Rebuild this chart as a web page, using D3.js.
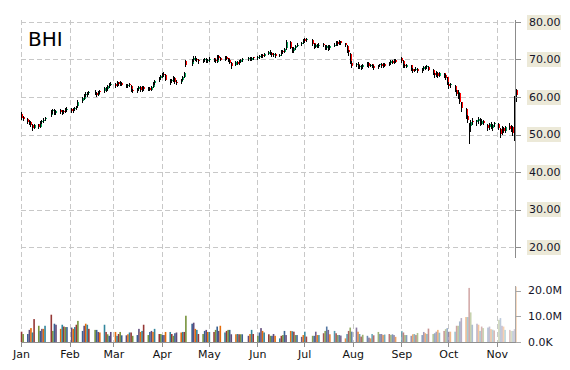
<!DOCTYPE html>
<html><head><meta charset="utf-8">
<script src="https://cdn.jsdelivr.net/npm/d3@7"></script>
<style>body{margin:0;background:#fff}svg{display:block}</style>
</head><body><svg id="c" width="570" height="370"></svg>
<script>
const ticker = "BHI";
const year = 2014;
// trading days of each month (Jan..Nov)
const monthDays = [
 [2,3,6,7,8,9,10,13,14,15,16,17,21,22,23,24,27,28,29,30,31],
 [3,4,5,6,7,10,11,12,13,14,18,19,20,21,24,25,26,27,28],
 [3,4,5,6,7,10,11,12,13,14,17,18,19,20,21,24,25,26,27,28,31],
 [1,2,3,4,7,8,9,10,11,14,15,16,17,21,22,23,24,25,28,29,30],
 [1,2,5,6,7,8,9,12,13,14,15,16,19,20,21,22,23,27,28,29,30],
 [2,3,4,5,6,9,10,11,12,13,16,17,18,19,20,23,24,25,26,27,30],
 [1,2,3,7,8,9,10,11,14,15,16,17,18,21,22,23,24,25,28,29,30,31],
 [1,4,5,6,7,8,11,12,13,14,15,18,19,20,21,22,25,26,27,28,29],
 [2,3,4,5,8,9,10,11,12,15,16,17,18,19,22,23,24,25,26,29,30],
 [1,2,3,6,7,8,9,10,13,14,15,16,17,20,21,22,23,24,27,28,29,30,31],
 [3,4,5,6,7,10,11,12,13,14]
];
const monthLabels = ["Jan","Feb","Mar","Apr","May","Jun","Jul","Aug","Sep","Oct","Nov"];
const open = [
 55.6,54.7,54.2,53.6,53.3,52.5,51.9,52.7,52.2,53.3,53.7,54.1,55.1,56.1,56.5,55.8,56.4,55.9,56.3,56.1,56.6,
 56.8,56.3,56.7,57.1,57.6,58.9,59.7,60.5,60.6,61.0,61.4,61.1,60.7,61.5,61.4,62.4,62.1,63.1,63.5,
 63.5,63.2,63.9,63.4,63.8,63.3,63.0,63.4,63.0,61.9,61.7,62.1,62.7,61.9,62.7,62.1,62.5,62.1,62.9,63.7,64.4,
 65.0,65.6,66.1,65.9,64.5,64.1,64.5,65.1,64.1,63.9,64.6,65.5,69.6,68.8,69.9,70.5,70.1,69.8,69.5,69.7,70.1,
 69.5,69.9,70.3,69.8,69.6,70.9,70.4,70.1,70.7,70.3,69.9,69.1,68.6,69.4,69.1,69.5,69.8,70.1,70.4,70.1,70.6,
 70.3,70.7,70.8,71.3,71.1,71.6,72.1,71.7,71.2,71.5,71.1,71.4,72.3,72.1,73.0,74.7,73.1,72.3,73.1,73.7,74.1,
 74.6,75.4,75.1,75.3,74.3,73.5,74.0,73.7,74.1,73.7,73.1,73.6,73.0,73.7,74.1,74.7,74.3,74.9,74.3,73.6,72.4,71.6,
 69.1,68.5,68.9,68.1,68.3,67.9,68.6,69.0,68.4,68.7,68.3,67.9,68.5,68.8,68.3,68.9,68.6,69.1,69.7,69.3,69.9,
 70.3,69.6,68.4,68.1,68.4,67.5,67.1,67.4,67.5,67.0,67.5,68.1,67.9,68.1,67.3,66.3,65.9,66.5,65.7,66.3,65.8,
 65.2,63.6,63.2,63.0,61.8,60.7,61.0,58.6,56.8,54.9,51.0,52.3,53.5,53.2,53.8,54.1,52.9,53.5,52.5,51.8,52.8,51.8,52.8,
 52.9,51.5,50.4,51.6,51.0,52.3,51.5,52.0,50.5,61.8
];
const high = [
 55.9,55.0,54.4,53.9,53.5,52.7,52.9,52.9,53.5,53.9,54.3,54.6,56.6,56.9,56.7,56.6,56.7,56.5,56.5,57.1,57.3,
 57.1,57.0,57.3,57.7,59.1,59.9,60.7,61.2,61.3,61.6,61.8,61.4,61.7,61.8,62.6,62.7,63.3,63.8,64.0,
 63.8,64.3,64.1,64.2,64.0,63.6,63.6,63.7,63.2,62.2,62.3,62.9,62.9,62.9,62.9,62.7,62.7,63.0,63.9,64.5,65.3,
 65.8,66.4,66.7,66.1,64.8,64.7,65.5,65.3,64.4,64.8,65.6,66.7,69.9,70.1,70.9,70.9,70.4,70.0,70.1,70.4,70.3,
 70.2,70.6,70.5,70.0,71.2,71.2,70.6,70.9,70.9,70.5,70.1,69.3,69.6,69.6,69.9,70.2,70.4,70.6,70.6,70.8,70.8,
 70.9,71.2,71.5,71.5,71.8,72.3,72.4,71.9,71.7,71.7,71.6,72.5,72.6,73.1,75.1,75.0,73.4,73.3,73.9,74.3,74.8,
 75.6,75.7,75.7,75.4,74.5,74.2,74.2,74.3,74.4,73.9,73.8,73.8,73.9,74.3,74.9,74.9,75.1,75.0,74.5,73.8,72.6,71.8,
 69.6,69.1,69.2,68.6,68.6,68.8,69.2,69.3,68.9,68.9,68.6,68.6,68.9,69.0,69.0,69.1,69.3,69.9,69.9,70.2,70.1,
 70.6,69.8,68.8,68.8,68.6,67.7,67.6,67.9,67.7,67.7,68.3,68.3,68.5,68.3,67.5,66.5,66.9,66.7,66.7,66.5,66.0,
 65.4,64.0,63.8,63.1,62.0,61.9,61.1,58.8,57.2,55.2,53.0,53.9,54.5,54.0,54.7,54.4,54.1,53.8,52.8,53.0,53.3,52.9,53.4,
 53.2,51.8,52.2,52.0,52.4,53.0,52.5,52.3,60.3,62.2
];
const low = [
 54.2,54.0,53.2,52.9,52.3,51.1,51.6,51.7,52.0,53.0,53.4,53.8,55.0,55.7,55.6,55.6,55.7,55.6,55.7,55.9,56.3,
 55.9,56.0,56.4,56.8,57.4,58.6,59.4,60.2,60.3,60.8,60.8,60.3,60.5,61.0,61.2,61.7,61.9,62.8,63.1,
 62.6,63.0,63.2,63.3,63.1,62.8,62.8,62.9,61.5,61.2,61.4,61.9,61.5,61.7,62.0,61.8,61.8,61.9,62.7,63.5,64.2,
 64.8,65.4,65.6,64.4,63.6,63.9,64.3,63.8,63.4,63.7,64.4,65.3,68.2,68.6,69.6,69.9,69.5,69.0,69.2,69.5,69.3,
 69.2,69.6,69.6,69.2,69.4,70.2,69.8,69.9,70.0,69.5,69.0,67.8,68.4,68.8,68.9,69.3,69.6,69.9,69.8,69.9,70.0,
 70.1,70.5,70.6,70.8,70.9,71.4,71.4,71.0,71.0,70.8,70.9,71.3,71.8,71.9,72.8,73.0,71.9,72.0,72.9,73.5,73.9,
 74.4,74.8,74.9,74.0,73.1,73.3,73.3,73.4,73.5,72.8,72.9,72.6,72.8,73.5,73.9,73.9,74.1,74.1,73.5,72.0,71.3,69.0,
 68.0,68.2,67.7,67.7,67.4,67.7,68.3,68.1,68.2,67.9,67.5,67.7,68.3,68.0,68.1,68.3,68.4,68.9,69.0,69.1,69.2,
 69.3,68.0,67.9,67.9,67.3,66.7,66.9,67.1,66.6,66.8,67.2,67.5,67.7,67.2,66.0,65.4,65.7,65.3,65.5,65.2,64.8,
 63.5,62.3,62.8,61.6,60.6,59.6,58.4,56.2,54.4,53.3,47.7,51.0,52.8,52.6,53.0,52.6,52.7,52.7,51.2,51.5,51.8,51.2,52.2,
 51.5,49.4,50.1,50.6,50.8,51.4,51.0,49.9,48.6,59.0
];
const close = [
 54.6,54.3,53.5,53.2,52.6,51.8,52.6,52.0,53.2,53.6,54.0,54.3,56.0,56.4,55.9,56.3,56.0,56.2,56.0,56.8,56.9,
 56.2,56.8,57.0,57.5,58.8,59.6,60.4,60.9,61.0,61.3,61.0,60.6,61.4,61.2,62.3,62.0,63.0,63.4,63.6,
 63.0,64.0,63.5,63.9,63.4,63.0,63.3,63.2,61.8,61.6,62.0,62.6,61.8,62.6,62.2,62.4,62.0,62.8,63.6,64.2,65.0,
 65.5,66.0,65.8,64.6,64.0,64.4,65.2,64.0,63.8,64.5,65.4,66.5,68.6,69.8,70.4,70.2,69.9,69.4,69.8,70.0,69.6,
 69.8,70.2,69.9,69.5,70.8,70.5,70.0,70.6,70.2,69.8,69.2,68.4,69.3,69.0,69.6,69.9,70.1,70.3,70.0,70.5,70.3,
 70.6,70.9,71.2,71.0,71.5,72.0,71.6,71.2,71.4,71.0,71.3,72.2,72.0,72.8,74.6,73.2,72.2,73.0,73.6,74.0,74.4,
 75.3,75.0,75.4,74.2,73.4,73.9,73.6,74.0,73.8,73.0,73.5,72.9,73.6,74.0,74.6,74.2,74.8,74.4,73.7,72.3,71.8,69.3,
 68.4,68.8,68.0,68.2,67.8,68.5,68.9,68.3,68.6,68.2,67.8,68.4,68.7,68.2,68.8,68.5,69.0,69.6,69.2,69.8,69.4,
 69.5,68.3,68.2,68.5,67.6,67.0,67.3,67.6,66.9,67.4,68.0,67.8,68.2,67.4,66.2,65.8,66.6,65.6,66.4,65.6,65.1,
 63.8,63.0,63.4,61.9,60.8,61.2,58.7,56.9,54.6,53.8,52.6,53.4,53.2,53.8,54.2,52.8,53.6,53.0,51.6,52.7,52.0,52.6,53.0,
 51.8,50.2,51.8,50.9,52.1,51.6,52.2,50.4,60.0,60.5
];
// volume in millions
const volume = [
 4.0,3.1,3.1,4.7,5.4,3.7,8.9,6.3,4.3,5.1,5.1,6.3,10.6,4.3,7.1,6.7,5.1,6.7,6.0,5.8,5.8,
 5.6,5.1,5.8,6.7,8.2,4.3,6.3,7.1,6.7,5.1,4.7,4.7,3.9,3.7,6.7,3.9,3.0,2.4,3.9,
 3.9,2.4,3.1,3.9,2.6,2.6,3.0,3.7,3.7,2.4,2.7,5.1,3.9,4.3,6.7,2.7,3.9,4.3,3.9,5.1,3.1,
 3.1,2.7,2.7,3.9,3.9,3.1,2.4,3.4,3.7,3.7,3.9,3.9,10.2,7.1,7.5,5.1,4.7,3.1,3.1,4.3,4.7,
 3.9,3.9,3.9,4.7,6.0,4.3,6.3,3.7,4.3,4.7,4.7,3.0,3.0,3.1,3.0,3.0,3.0,2.4,3.1,4.7,3.1,
 2.4,3.7,5.4,4.3,3.7,3.0,2.4,2.4,3.1,2.4,1.4,2.4,2.7,4.3,2.7,4.3,4.2,4.0,2.7,2.7,2.0,
 2.7,4.0,2.1,2.4,2.4,4.0,2.7,2.7,3.4,4.3,6.0,4.7,3.0,4.3,3.4,2.7,2.7,2.5,1.4,3.1,4.3,5.6,
 4.0,5.6,4.0,3.1,2.1,2.8,2.4,1.7,1.4,3.1,2.6,3.9,3.1,3.1,2.7,2.9,3.1,2.7,3.0,2.7,2.0,
 4.3,3.7,2.7,2.7,2.4,3.0,3.1,2.7,3.5,2.7,3.9,3.4,3.1,5.2,3.1,3.4,4.0,4.7,3.6,4.3,5.0,
 5.4,4.0,4.0,4.0,6.3,6.3,8.0,9.3,9.7,9.7,21.0,11.5,6.7,7.1,6.7,4.3,6.0,5.4,5.6,6.0,5.0,4.8,4.5,
 8.6,9.3,6.3,6.0,4.7,4.7,4.3,4.3,5.0,21.5
];
const priceTicks = [20,30,40,50,60,70,80];
const volTicks = [0,10,20];
const volTickLabels = ["0.0K","10.0M","20.0M"];
const volColors = ["#953735","#77933C","#376092","#604A7B","#E46C0A","#31859C"];

// build data table
const dates = [];
monthDays.forEach((days, m) => days.forEach(d => dates.push(new Date(year, m, d))));
const data = dates.map((d, i) => ({date: d, o: open[i], h: high[i], l: low[i], c: close[i], v: volume[i], i}));

const svg = d3.select("#c");
const FONT = "DejaVu Sans, Verdana, sans-serif";
const x = d3.scaleTime().domain([new Date(year,0,1), new Date(year,10,14)]).range([21, 517.1]);
const y = d3.scaleLinear().domain([20,80]).range([247,22]);
const yv = d3.scaleLinear().domain([0,20]).range([342,290.5]);
const left = 21, right = 515;
const monthStarts = monthLabels.map((_, m) => new Date(year, m, 1));
const xc = d => x(d) - 1.5;

// grid
const grid = svg.append("g").attr("stroke", "#c8c8c8").attr("stroke-dasharray", "5,3").attr("shape-rendering","crispEdges");
grid.selectAll("line.h").data(priceTicks).join("line")
  .attr("x1", left).attr("x2", right).attr("y1", d => Math.round(y(d)) + 0.5).attr("y2", d => Math.round(y(d)) + 0.5);
grid.selectAll("line.v").data(monthStarts).join("line")
  .attr("x1", d => Math.round(x(d)) + 0.5).attr("x2", d => Math.round(x(d)) + 0.5).attr("y1", 20).attr("y2", 342);

// volume bars
const fade = d3.scaleLinear().domain([new Date(year,5,15), new Date(year,10,14)]).range([1, 0.28]).clamp(true);
svg.append("g").selectAll("rect").data(data).join("rect")
  .attr("x", d => xc(d.date) - 0.3).attr("width", 1.6)
  .attr("y", d => yv(d.v)).attr("height", d => yv(0) - yv(d.v))
  .attr("fill", d => volColors[d.i % volColors.length])
  .attr("fill-opacity", d => fade(d.date));

// candles
const cg = svg.append("g").attr("shape-rendering","crispEdges");
cg.selectAll("rect").data(data).join("rect")
  .attr("x", d => Math.round(xc(d.date)))
  .attr("width", 2)
  .attr("y", d => Math.round(y(Math.max(d.o, d.c))))
  .attr("height", d => Math.max(1, Math.round(Math.abs(y(d.o) - y(d.c)))))
  .attr("fill", d => d.c >= d.o ? "#00a859" : "#ff0000");
cg.selectAll("line").data(data).join("line")
  .attr("x1", d => Math.round(xc(d.date)) + 0.5).attr("x2", d => Math.round(xc(d.date)) + 0.5)
  .attr("y1", d => Math.round(y(d.h))).attr("y2", d => Math.round(y(d.l)) + 1)
  .attr("stroke", "#000").attr("stroke-width", 1);

// right axes
const ax = svg.append("g").attr("shape-rendering","crispEdges");
ax.append("line").attr("x1", right + 0.5).attr("x2", right + 0.5).attr("y1", y(80.5)).attr("y2", y(17)).attr("stroke", "#8c8c8c");
ax.append("line").attr("x1", right + 0.5).attr("x2", right + 0.5).attr("y1", yv(21.6)).attr("y2", 342).attr("stroke", "#a8a8a8");
ax.selectAll("line.pt").data(priceTicks).join("line").attr("class","pt")
  .attr("x1", right).attr("x2", right + 6).attr("y1", d => Math.round(y(d)) + 0.5).attr("y2", d => Math.round(y(d)) + 0.5).attr("stroke", "#8c8c8c");
ax.selectAll("line.vt").data(volTicks).join("line").attr("class","vt")
  .attr("x1", right).attr("x2", right + 6).attr("y1", d => Math.round(yv(d)) + 0.5).attr("y2", d => Math.round(yv(d)) + 0.5).attr("stroke", "#a8a8a8");
ax.selectAll("rect.pb").data(priceTicks).join("rect").attr("class","pb")
  .attr("x", 527).attr("width", 34).attr("y", d => y(d) - 7.5).attr("height", 15).attr("fill", "#ece9d8");
svg.append("g").selectAll("text").data(priceTicks).join("text")
  .attr("x", 529).attr("y", d => y(d)).attr("dy", "0.36em")
  .attr("font-family", FONT).attr("font-size", 11).attr("fill", "#141428")
  .text(d => d3.format(".2f")(d));
svg.append("g").selectAll("text").data(volTicks).join("text")
  .attr("x", 528).attr("y", d => yv(d)).attr("dy", "0.36em")
  .attr("font-family", FONT).attr("font-size", 11).attr("fill", "#141428")
  .text((d, i) => volTickLabels[i]);

// bottom axis
const bx = svg.append("g").attr("shape-rendering","crispEdges");
bx.append("line").attr("x1", left).attr("x2", right + 1).attr("y1", 342.5).attr("y2", 342.5).attr("stroke", "#909090");
bx.selectAll("line.t").data(monthStarts).join("line").attr("class","t")
  .attr("x1", d => Math.round(x(d)) + 0.5).attr("x2", d => Math.round(x(d)) + 0.5)
  .attr("y1", 342).attr("y2", 347).attr("stroke", "#909090");
svg.append("g").selectAll("text").data(monthStarts).join("text")
  .attr("x", d => x(d) + 0.5).attr("y", 354).attr("dy", "0.36em").attr("text-anchor", "middle")
  .attr("font-family", FONT).attr("font-size", 11).attr("fill", "#111")
  .text((d, i) => monthLabels[i]);

// title
svg.append("text").attr("x", 28).attr("y", 46).attr("font-family", FONT).attr("font-size", 20).attr("fill", "#000").text(ticker);
</script>
</body></html>
